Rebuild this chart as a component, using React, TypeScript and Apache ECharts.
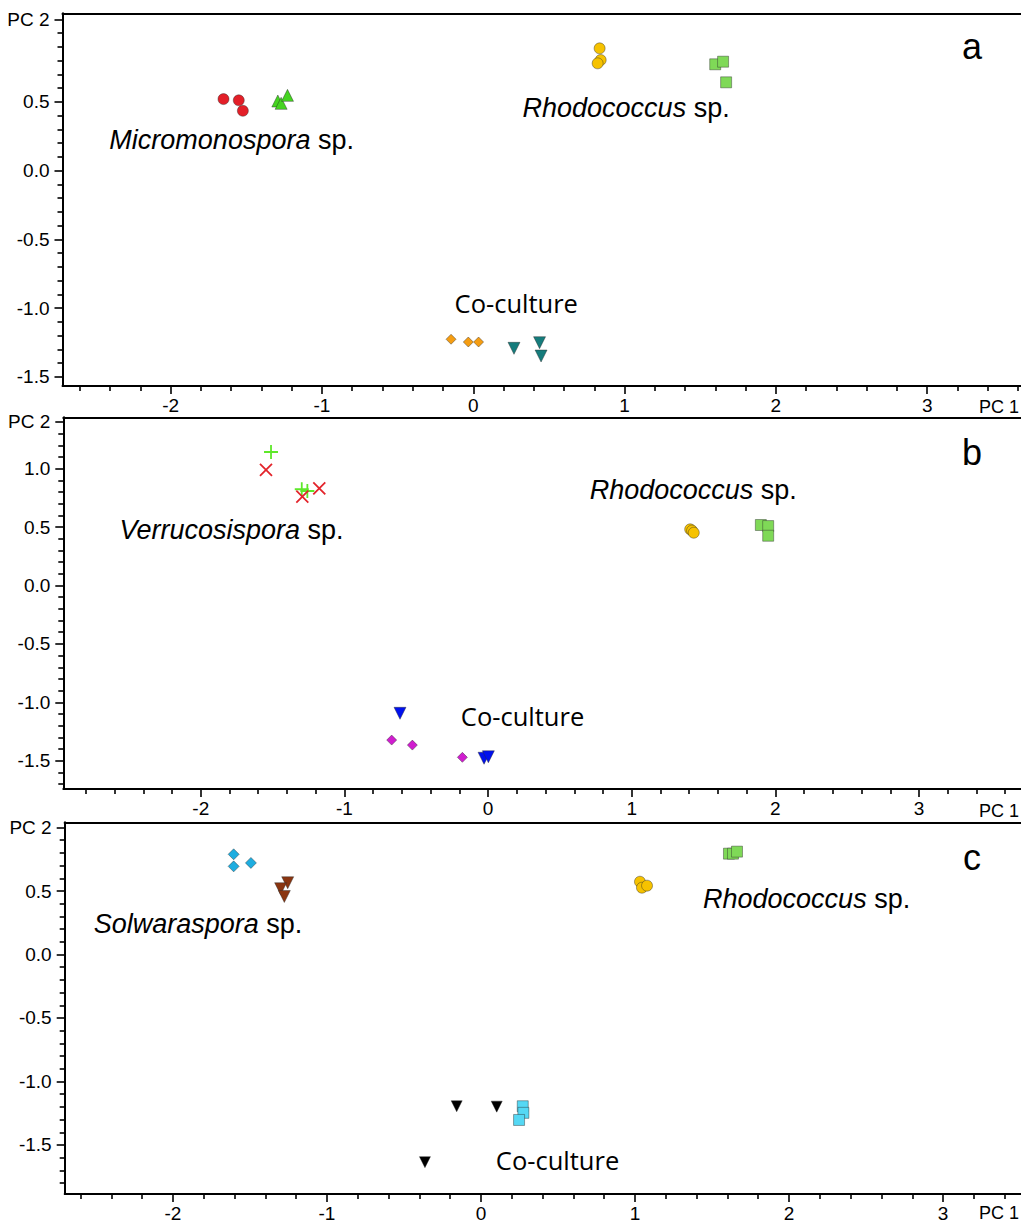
import React, { useEffect, useRef } from 'react';
import * as echarts from 'echarts';

// ---------- Panel a ----------
const aMicroCircles = [[-1.651, 0.521], [-1.55, 0.512], [-1.523, 0.436]];
const aMicroTriangles = [[-1.292, 0.507], [-1.27, 0.49], [-1.228, 0.548]];
const aRhodoCircles = [[0.835, 0.89], [0.842, 0.805], [0.822, 0.781]];
const aRhodoSquares = [[1.599, 0.774], [1.651, 0.793], [1.671, 0.643]];
const aCoDiamonds = [[-0.147, -1.226], [-0.033, -1.246], [0.035, -1.246]];
const aCoTriangles = [[0.269, -1.292], [0.438, -1.251], [0.448, -1.348]];

// ---------- Panel b ----------
const bVerrPlus = [[-1.511, 1.143], [-1.297, 0.824], [-1.258, 0.809]];
const bVerrCross = [[-1.546, 0.989], [-1.293, 0.76], [-1.175, 0.832]];
const bRhodoCircles = [[1.407, 0.481], [1.42, 0.47], [1.432, 0.452]];
const bRhodoSquares = [[1.899, 0.518], [1.95, 0.509], [1.95, 0.426]];
const bCoTriangles = [[-0.613, -1.094], [-0.028, -1.479], [0.002, -1.466]];
const bCoDiamonds = [[-0.671, -1.323], [-0.527, -1.366], [-0.179, -1.471]];

// ---------- Panel c ----------
const cSolDiamonds = [[-1.606, 0.789], [-1.606, 0.694], [-1.494, 0.721]];
const cSolTriangles = [[-1.255, 0.565], [-1.301, 0.518], [-1.277, 0.457]];
const cRhodoCircles = [[1.032, 0.573], [1.045, 0.526], [1.078, 0.542]];
const cRhodoSquares = [[1.61, 0.794], [1.636, 0.794], [1.662, 0.81]];
const cCoTriangles = [[-0.158, -1.195], [0.102, -1.198], [-0.364, -1.635]];
const cCoSquares = [[0.271, -1.195], [0.275, -1.247], [0.247, -1.303]];

// ---------- Axis ranges & tick labels ----------
const xRangeA = [-2.715, 3.62];
const yRangeA = [-1.566, 1.145];
const xRangeB = [-2.957, 3.71];
const yRangeB = [-1.742, 1.44];
const xRangeC = [-2.703, 3.506];
const yRangeC = [-1.886, 1.041];

const xTickLabels = [-2, -1, 0, 1, 2, 3];
const yTicksA = [-1.5, -1, -0.5, 0, 0.5];
const yTicksB = [-1.5, -1, -0.5, 0, 0.5, 1];
const yTicksC = [-1.5, -1, -0.5, 0, 0.5];
const pcTopA = 1.1;
const pcTopB = 1.4;
const pcTopC = 1.0;

// ---------- Annotations (data units) ----------
const annA = [
  { text: 'Micromonospora', italic: true, x: -1.597, y: 0.223 },
  { text: 'Rhodococcus', italic: true, x: 1.01, y: 0.456 },
  { text: 'Co-culture', italic: false, x: 0.284, y: -0.962 },
];
const annB = [
  { text: 'Verrucosispora', italic: true, x: -1.786, y: 0.475 },
  { text: 'Rhodococcus', italic: true, x: 1.428, y: 0.818 },
  { text: 'Co-culture', italic: false, x: 0.24, y: -1.117 },
];
const annC = [
  { text: 'Solwaraspora', italic: true, x: -1.838, y: 0.241 },
  { text: 'Rhodococcus', italic: true, x: 2.114, y: 0.439 },
  { text: 'Co-culture', italic: false, x: 0.497, y: -1.617 },
];

const TICK_FONT = 'Liberation Sans, Arial, sans-serif';
const PLUS = 'path://M5,0L5,10M0,5L10,5';
const CROSS = 'path://M0,0L10,10M10,0L0,10';

const round = (v: number, d: number) => Math.round(v * Math.pow(10, d)) / Math.pow(10, d);

function steps(min: number, max: number, step: number, exclude: number[]) {
  const out: number[] = [];
  const k0 = Math.ceil(min / step - 1e-9);
  const k1 = Math.floor(max / step + 1e-9);
  for (let k = k0; k <= k1; k++) {
    const v = round(k * step, 3);
    if (!exclude.some((e) => Math.abs(e - v) < 1e-6)) out.push(v);
  }
  return out;
}

type Layer = {
  data: number[][];
  symbol: string;
  size: number;
  color: string;
  rotate?: number;
  stroke?: boolean;
};

type PanelCfg = {
  grid: { left: number; top: number; height: number };
  xRange: number[];
  yRange: number[];
  yTicks: number[];
  pcTop: number;
  layers: Layer[];
  ann: { text: string; italic: boolean; x: number; y: number }[];
};

const panels: PanelCfg[] = [
  {
    grid: { left: 62.5, top: 13.3, height: 372.7 },
    xRange: xRangeA,
    yRange: yRangeA,
    yTicks: yTicksA,
    pcTop: pcTopA,
    layers: [
      { data: aMicroCircles, symbol: 'circle', size: 11, color: '#e31f28' },
      { data: aMicroTriangles, symbol: 'triangle', size: 12, color: '#45d420' },
      { data: aRhodoCircles, symbol: 'circle', size: 11, color: '#f6c200' },
      { data: aRhodoSquares, symbol: 'rect', size: 11, color: '#7fd957' },
      { data: aCoDiamonds, symbol: 'diamond', size: 10, color: '#f59d12' },
      { data: aCoTriangles, symbol: 'triangle', size: 12, color: '#157c7c', rotate: 180 },
    ],
    ann: annA,
  },
  {
    grid: { left: 63.3, top: 417.3, height: 371.7 },
    xRange: xRangeB,
    yRange: yRangeB,
    yTicks: yTicksB,
    pcTop: pcTopB,
    layers: [
      { data: bVerrPlus, symbol: PLUS, size: 14, color: '#5ee82a', stroke: true },
      { data: bVerrCross, symbol: CROSS, size: 12, color: '#e3242b', stroke: true },
      { data: bRhodoCircles, symbol: 'circle', size: 11, color: '#f6c200' },
      { data: bRhodoSquares, symbol: 'rect', size: 11, color: '#7fd957' },
      { data: bCoTriangles, symbol: 'triangle', size: 12, color: '#0010ee', rotate: 180 },
      { data: bCoDiamonds, symbol: 'diamond', size: 10, color: '#d01dcf' },
    ],
    ann: annB,
  },
  {
    grid: { left: 64.7, top: 822.3, height: 371.7 },
    xRange: xRangeC,
    yRange: yRangeC,
    yTicks: yTicksC,
    pcTop: pcTopC,
    layers: [
      { data: cSolDiamonds, symbol: 'diamond', size: 11, color: '#1eade0' },
      { data: cSolTriangles, symbol: 'triangle', size: 12, color: '#8a3510', rotate: 180 },
      { data: cRhodoCircles, symbol: 'circle', size: 11, color: '#f6c200' },
      { data: cRhodoSquares, symbol: 'rect', size: 11, color: '#7fd957' },
      { data: cCoTriangles, symbol: 'triangle', size: 11, color: '#000000', rotate: 180 },
      { data: cCoSquares, symbol: 'rect', size: 11, color: '#55d8f4' },
    ],
    ann: annC,
  },
];

const pcLabelY = [407, 811, 1213];
const letterY = [46, 452, 857];
const letters = ['a', 'b', 'c'];

function buildOption() {
  const grid: any[] = [];
  const xAxis: any[] = [];
  const yAxis: any[] = [];
  const series: any[] = [];
  const graphic: any[] = [];

  panels.forEach((p, i) => {
    grid.push({
      left: p.grid.left,
      top: p.grid.top,
      right: 0,
      height: p.grid.height,
      containLabel: false,
      outerBoundsMode: 'none',
    });
    const xMinor = steps(p.xRange[0], p.xRange[1], 0.2, xTickLabels);
    const yMajor = [...p.yTicks, p.pcTop];
    const yMinor = steps(p.yRange[0], p.yRange[1], 0.1, yMajor);
    const base = {
      type: 'value',
      gridIndex: i,
      splitLine: { show: false },
      min: p.xRange[0],
      max: p.xRange[1],
    };
    xAxis.push({
      ...base,
      position: 'bottom',
      axisLine: { show: true, onZero: false, lineStyle: { color: '#000', width: 2 } },
      axisTick: {
        show: true,
        length: 8,
        customValues: xTickLabels,
        lineStyle: { color: '#000', width: 1.6 },
      },
      axisLabel: {
        show: true,
        customValues: xTickLabels,
        margin: 10,
        fontSize: 19,
        fontFamily: TICK_FONT,
        color: '#000',
        formatter: (v: number) => String(v),
      },
    });
    xAxis.push({
      ...base,
      position: 'bottom',
      axisLine: { show: false, onZero: false },
      axisTick: {
        show: true,
        length: 5,
        customValues: xMinor,
        lineStyle: { color: '#000', width: 1.6 },
      },
      axisLabel: { show: false },
    });
    xAxis.push({
      ...base,
      position: 'top',
      axisLine: { show: true, onZero: false, lineStyle: { color: '#000', width: 2 } },
      axisTick: { show: false },
      axisLabel: { show: false },
    });
    const ybase = {
      type: 'value',
      gridIndex: i,
      splitLine: { show: false },
      min: p.yRange[0],
      max: p.yRange[1],
      position: 'left',
    };
    yAxis.push({
      ...ybase,
      axisLine: { show: true, onZero: false, lineStyle: { color: '#000', width: 2 } },
      axisTick: {
        show: true,
        length: 8,
        customValues: yMajor,
        lineStyle: { color: '#000', width: 1.6 },
      },
      axisLabel: {
        show: true,
        customValues: yMajor,
        margin: 13,
        fontSize: 19,
        fontFamily: TICK_FONT,
        color: '#000',
        formatter: (v: number) => (Math.abs(v - p.pcTop) < 1e-6 ? 'PC 2' : v.toFixed(1)),
      },
    });
    yAxis.push({
      ...ybase,
      axisLine: { show: false, onZero: false },
      axisTick: {
        show: true,
        length: 5,
        customValues: yMinor,
        lineStyle: { color: '#000', width: 1.6 },
      },
      axisLabel: { show: false },
    });

    const xi = i * 3;
    const yi = i * 2;
    p.layers.forEach((l) => {
      series.push({
        type: 'scatter',
        xAxisIndex: xi,
        yAxisIndex: yi,
        symbol: l.symbol,
        symbolSize: l.size,
        symbolRotate: l.rotate || 0,
        data: l.data,
        silent: true,
        itemStyle: l.stroke
          ? { color: 'rgba(0,0,0,0)', borderColor: l.color, borderWidth: 1.8, opacity: 1 }
          : { color: l.color, borderColor: 'rgba(40,40,40,0.6)', borderWidth: 0.7, opacity: 1 },
        emphasis: { disabled: true },
      });
    });
    const ann = p.ann;
    series.push({
      type: 'scatter',
      xAxisIndex: xi,
      yAxisIndex: yi,
      symbolSize: 1,
      silent: true,
      itemStyle: { color: 'rgba(0,0,0,0)', opacity: 1 },
      data: ann.map((a) => ({ value: [a.x, a.y], name: a.text })),
      label: {
        show: true,
        position: 'inside',
        color: '#000',
        opacity: 1,
        formatter: (params: any) => {
          const a = ann[params.dataIndex];
          return a.italic ? `{i|${a.text}}{n| sp.}` : `{c|${a.text}}`;
        },
        rich: {
          i: { fontSize: 27, fontStyle: 'italic', fontFamily: TICK_FONT, color: '#000' },
          n: { fontSize: 27, fontFamily: TICK_FONT, color: '#000' },
          c: { fontSize: 25.5, fontFamily: 'Open Sans, sans-serif', color: '#000' },
        },
      },
      emphasis: { disabled: true },
    });

    graphic.push({
      type: 'text',
      x: 1019,
      y: pcLabelY[i],
      style: {
        text: 'PC 1',
        fontSize: 18,
        fontFamily: TICK_FONT,
        fill: '#000',
        align: 'right',
        verticalAlign: 'middle',
      },
      silent: true,
    });
    graphic.push({
      type: 'text',
      x: 972,
      y: letterY[i],
      style: {
        text: letters[i],
        fontSize: 36,
        fontFamily: TICK_FONT,
        fill: '#000',
        align: 'center',
        verticalAlign: 'middle',
      },
      silent: true,
    });
  });

  return {
    animation: false,
    backgroundColor: '#ffffff',
    grid,
    xAxis,
    yAxis,
    series,
    graphic,
  };
}

export default function App() {
  const ref = useRef<HTMLDivElement>(null);
  useEffect(() => {
    if (!ref.current) return;
    const chart = echarts.init(ref.current, undefined, { renderer: 'svg' });
    chart.setOption(buildOption() as any);
    return () => chart.dispose();
  }, []);
  return (
    <div
      ref={ref}
      style={{ position: 'absolute', left: 0, top: 0, width: 1021, height: 1223, background: '#fff' }}
    />
  );
}
